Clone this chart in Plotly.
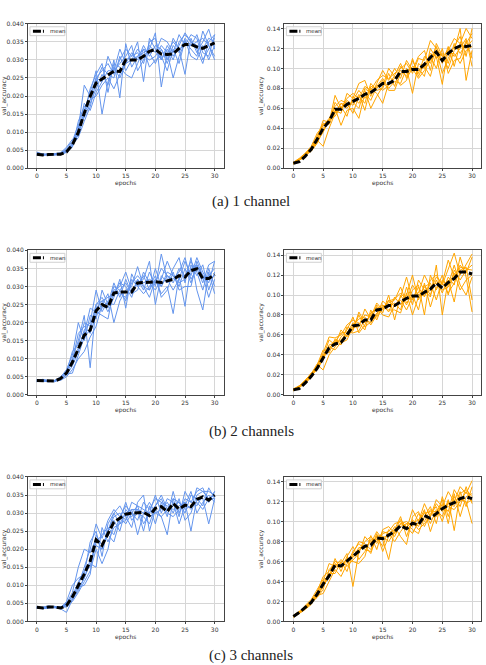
import plotly.graph_objects as go

epochs = list(range(31))

# ---------- (a) 1 channel ----------
a_blue_mean = [0.0039,0.0037,0.0038,0.0038,0.0039,0.0045,0.0065,0.0099,0.0153,0.0199,0.0236,0.0247,0.0258,0.0269,0.0268,0.0300,0.0300,0.0300,0.0310,0.0324,0.0329,0.0316,0.0315,0.0317,0.0332,0.0343,0.0343,0.0336,0.0332,0.0340,0.0347]
a_blue_runs = [
    [0.0038,0.0036,0.0040,0.0037,0.0042,0.0050,0.0068,0.0110,0.0230,0.0200,0.0250,0.0270,0.0290,0.0260,0.0300,0.0330,0.0310,0.0320,0.0290,0.0350,0.0360,0.0300,0.0330,0.0300,0.0350,0.0370,0.0350,0.0340,0.0330,0.0360,0.0350],
    [0.0043,0.0040,0.0036,0.0039,0.0038,0.0045,0.0060,0.0095,0.0160,0.0210,0.0270,0.0150,0.0240,0.0280,0.0250,0.0290,0.0320,0.0300,0.0340,0.0310,0.0340,0.0330,0.0290,0.0340,0.0320,0.0360,0.0340,0.0370,0.0320,0.0310,0.0370],
    [0.0040,0.0035,0.0039,0.0040,0.0041,0.0055,0.0075,0.0120,0.0140,0.0180,0.0220,0.0260,0.0230,0.0300,0.0195,0.0345,0.0280,0.0310,0.0320,0.0330,0.0375,0.0225,0.0320,0.0350,0.0330,0.0260,0.0360,0.0320,0.0350,0.0385,0.0330],
    [0.0036,0.0038,0.0037,0.0036,0.0040,0.0048,0.0065,0.0085,0.0130,0.0170,0.0240,0.0280,0.0260,0.0250,0.0310,0.0270,0.0300,0.0330,0.0310,0.0300,0.0310,0.0340,0.0320,0.0250,0.0310,0.0350,0.0330,0.0310,0.0380,0.0340,0.0300],
    [0.0045,0.0039,0.0040,0.0038,0.0039,0.0052,0.0070,0.0105,0.0180,0.0160,0.0210,0.0240,0.0310,0.0270,0.0290,0.0310,0.0340,0.0270,0.0300,0.0340,0.0320,0.0360,0.0350,0.0320,0.0370,0.0340,0.0370,0.0360,0.0300,0.0330,0.0360],
    [0.0039,0.0037,0.0038,0.0041,0.0043,0.0058,0.0080,0.0090,0.0150,0.0220,0.0260,0.0290,0.0210,0.0290,0.0280,0.0260,0.0250,0.0290,0.0330,0.0280,0.0300,0.0310,0.0270,0.0330,0.0290,0.0355,0.0310,0.0300,0.0340,0.0300,0.0340],
    [0.0041,0.0036,0.0039,0.0037,0.0037,0.0044,0.0058,0.0130,0.0170,0.0190,0.0200,0.0230,0.0250,0.0220,0.0260,0.0300,0.0310,0.0350,0.0240,0.0360,0.0330,0.0300,0.0340,0.0310,0.0340,0.0375,0.0350,0.0330,0.0290,0.0350,0.0370],
    [0.0042,0.0040,0.0037,0.0039,0.0041,0.0047,0.0063,0.0100,0.0150,0.0190,0.0250,0.0240,0.0270,0.0270,0.0330,0.0290,0.0300,0.0310,0.0330,0.0320,0.0290,0.0330,0.0300,0.0360,0.0330,0.0340,0.0340,0.0350,0.0360,0.0340,0.0310],
]
a_orange_mean = [0.005,0.0066,0.012,0.019,0.029,0.040,0.047,0.059,0.059,0.064,0.067,0.070,0.074,0.076,0.080,0.085,0.085,0.088,0.097,0.097,0.099,0.099,0.104,0.111,0.1165,0.108,0.115,0.120,0.1225,0.122,0.123]
a_orange_runs = [
    [0.005,0.009,0.014,0.020,0.030,0.048,0.046,0.073,0.060,0.070,0.075,0.070,0.082,0.078,0.088,0.093,0.090,0.095,0.100,0.105,0.095,0.110,0.108,0.128,0.120,0.112,0.118,0.130,0.125,0.140,0.130],
    [0.005,0.008,0.012,0.018,0.028,0.022,0.040,0.055,0.065,0.060,0.068,0.078,0.070,0.080,0.075,0.065,0.085,0.090,0.098,0.092,0.108,0.095,0.112,0.105,0.118,0.095,0.110,0.122,0.132,0.112,0.140],
    [0.006,0.009,0.015,0.022,0.035,0.042,0.050,0.060,0.043,0.058,0.060,0.050,0.075,0.068,0.082,0.090,0.080,0.087,0.085,0.100,0.075,0.105,0.100,0.115,0.112,0.084,0.120,0.112,0.120,0.130,0.102],
    [0.005,0.009,0.013,0.017,0.025,0.038,0.048,0.062,0.068,0.065,0.055,0.072,0.065,0.085,0.078,0.080,0.095,0.082,0.102,0.095,0.102,0.100,0.092,0.120,0.110,0.115,0.105,0.125,0.115,0.125,0.135],
    [0.004,0.008,0.012,0.020,0.032,0.045,0.044,0.058,0.055,0.075,0.070,0.085,0.088,0.072,0.085,0.098,0.088,0.100,0.090,0.108,0.098,0.112,0.118,0.098,0.125,0.112,0.100,0.118,0.140,0.088,0.118],
    [0.005,0.008,0.014,0.021,0.027,0.036,0.049,0.052,0.062,0.052,0.072,0.065,0.078,0.060,0.072,0.082,0.100,0.092,0.083,0.088,0.110,0.092,0.105,0.112,0.100,0.120,0.095,0.108,0.110,0.128,0.110],
    [0.005,0.009,0.013,0.019,0.030,0.040,0.045,0.066,0.058,0.068,0.063,0.074,0.058,0.082,0.080,0.088,0.078,0.078,0.095,0.098,0.100,0.090,0.098,0.108,0.122,0.105,0.122,0.102,0.125,0.120,0.128],
    [0.006,0.010,0.015,0.019,0.026,0.044,0.047,0.056,0.065,0.063,0.066,0.060,0.080,0.075,0.083,0.078,0.083,0.093,0.105,0.090,0.100,0.098,0.102,0.092,0.115,0.108,0.115,0.115,0.105,0.118,0.122],
]

# ---------- (b) 2 channels ----------
b_blue_mean = [0.0040,0.0040,0.0038,0.0038,0.0045,0.0060,0.0090,0.0128,0.0165,0.0179,0.0233,0.0250,0.0242,0.0282,0.0285,0.0285,0.0285,0.0310,0.0311,0.0313,0.0313,0.0311,0.0315,0.0320,0.0330,0.0326,0.0344,0.0349,0.0322,0.0322,0.0333]
b_blue_runs = [
    [0.0040,0.0042,0.0037,0.0039,0.0050,0.0065,0.0100,0.0150,0.0220,0.0075,0.0250,0.0270,0.0240,0.0300,0.0290,0.0260,0.0320,0.0300,0.0330,0.0290,0.0350,0.0300,0.0330,0.0310,0.0350,0.0330,0.0370,0.0340,0.0290,0.0350,0.0300],
    [0.0038,0.0040,0.0039,0.0037,0.0042,0.0055,0.0080,0.0120,0.0180,0.0200,0.0290,0.0230,0.0260,0.0280,0.0310,0.0300,0.0270,0.0320,0.0290,0.0340,0.0300,0.0390,0.0320,0.0290,0.0320,0.0370,0.0330,0.0380,0.0340,0.0310,0.0370],
    [0.0042,0.0039,0.0036,0.0040,0.0048,0.0070,0.0110,0.0200,0.0150,0.0220,0.0210,0.0290,0.0250,0.0310,0.0270,0.0320,0.0280,0.0290,0.0340,0.0310,0.0290,0.0320,0.0370,0.0330,0.0300,0.0350,0.0310,0.0360,0.0320,0.0330,0.0350],
    [0.0036,0.0041,0.0038,0.0038,0.0040,0.0050,0.0070,0.0100,0.0120,0.0160,0.0190,0.0250,0.0280,0.0200,0.0260,0.0290,0.0300,0.0355,0.0300,0.0270,0.0320,0.0280,0.0300,0.0225,0.0330,0.0245,0.0360,0.0330,0.0360,0.0290,0.0340],
    [0.0041,0.0038,0.0039,0.0036,0.0046,0.0060,0.0090,0.0130,0.0170,0.0240,0.0230,0.0220,0.0210,0.0290,0.0300,0.0340,0.0290,0.0310,0.0320,0.0370,0.0250,0.0330,0.0310,0.0350,0.0380,0.0310,0.0380,0.0290,0.0235,0.0340,0.0280],
    [0.0039,0.0043,0.0040,0.0039,0.0044,0.0062,0.0120,0.0140,0.0200,0.0190,0.0250,0.0260,0.0230,0.0270,0.0320,0.0240,0.0335,0.0300,0.0280,0.0300,0.0330,0.0270,0.0290,0.0340,0.0290,0.0300,0.0300,0.0370,0.0330,0.0270,0.0320],
    [0.0043,0.0037,0.0038,0.0040,0.0047,0.0058,0.0060,0.0110,0.0160,0.0180,0.0240,0.0260,0.0270,0.0280,0.0280,0.0270,0.0310,0.0330,0.0310,0.0320,0.0310,0.0350,0.0330,0.0320,0.0340,0.0380,0.0320,0.0350,0.0310,0.0360,0.0370],
    [0.0037,0.0040,0.0037,0.0038,0.0043,0.0067,0.0095,0.0170,0.0190,0.0170,0.0220,0.0240,0.0255,0.0250,0.0290,0.0310,0.0280,0.0320,0.0300,0.0290,0.0320,0.0300,0.0340,0.0330,0.0310,0.0320,0.0350,0.0360,0.0330,0.0320,0.0330],
]
b_orange_mean = [0.005,0.0063,0.012,0.0185,0.0267,0.0366,0.047,0.051,0.0525,0.060,0.069,0.070,0.075,0.075,0.085,0.086,0.0895,0.0895,0.093,0.0967,0.099,0.099,0.1027,0.106,0.112,0.107,0.1126,0.1165,0.123,0.123,0.121]
b_orange_runs = [
    [0.005,0.007,0.012,0.019,0.026,0.035,0.050,0.052,0.055,0.062,0.072,0.070,0.080,0.078,0.092,0.085,0.095,0.088,0.098,0.118,0.095,0.108,0.098,0.115,0.120,0.110,0.125,0.142,0.120,0.130,0.141],
    [0.005,0.009,0.014,0.021,0.030,0.025,0.040,0.048,0.058,0.065,0.078,0.062,0.070,0.082,0.086,0.090,0.083,0.098,0.090,0.100,0.120,0.095,0.110,0.100,0.115,0.102,0.118,0.110,0.138,0.118,0.083],
    [0.004,0.008,0.013,0.019,0.028,0.040,0.046,0.055,0.050,0.068,0.065,0.080,0.068,0.073,0.090,0.082,0.100,0.075,0.100,0.090,0.105,0.110,0.080,0.120,0.105,0.120,0.100,0.125,0.115,0.125,0.130],
    [0.006,0.008,0.014,0.022,0.027,0.038,0.055,0.050,0.065,0.058,0.070,0.076,0.078,0.070,0.080,0.094,0.088,0.092,0.085,0.108,0.090,0.115,0.105,0.098,0.130,0.080,0.115,0.093,0.125,0.128,0.095],
    [0.005,0.009,0.012,0.017,0.030,0.045,0.042,0.056,0.052,0.055,0.068,0.068,0.086,0.076,0.078,0.088,0.092,0.095,0.108,0.092,0.100,0.085,0.112,0.088,0.108,0.112,0.135,0.118,0.130,0.122,0.138],
    [0.005,0.008,0.013,0.020,0.025,0.036,0.048,0.045,0.053,0.060,0.064,0.083,0.072,0.080,0.088,0.080,0.078,0.090,0.095,0.085,0.098,0.102,0.120,0.108,0.112,0.105,0.108,0.122,0.105,0.115,0.120],
    [0.005,0.008,0.012,0.019,0.029,0.042,0.058,0.057,0.060,0.070,0.075,0.072,0.065,0.085,0.075,0.090,0.085,0.085,0.082,0.102,0.080,0.098,0.108,0.112,0.095,0.115,0.110,0.130,0.110,0.100,0.118],
    [0.006,0.009,0.015,0.021,0.031,0.038,0.047,0.053,0.062,0.063,0.062,0.064,0.076,0.072,0.082,0.086,0.094,0.096,0.102,0.095,0.110,0.100,0.100,0.105,0.118,0.112,0.102,0.112,0.128,0.126,0.125],
]

# ---------- (c) 3 channels ----------
c_blue_mean = [0.0039,0.0037,0.0040,0.0040,0.0037,0.0044,0.0068,0.0099,0.0131,0.0167,0.0226,0.0211,0.0245,0.0275,0.0286,0.0297,0.0300,0.0302,0.0302,0.0293,0.0313,0.0318,0.0304,0.0327,0.0311,0.0322,0.0318,0.0338,0.0345,0.0336,0.0350]
c_blue_runs = [
    [0.0040,0.0036,0.0041,0.0039,0.0035,0.0025,0.0060,0.0100,0.0150,0.0200,0.0270,0.0230,0.0280,0.0310,0.0290,0.0320,0.0300,0.0280,0.0330,0.0310,0.0340,0.0330,0.0290,0.0360,0.0300,0.0340,0.0330,0.0360,0.0370,0.0330,0.0360],
    [0.0038,0.0039,0.0042,0.0041,0.0040,0.0050,0.0080,0.0150,0.0200,0.0190,0.0230,0.0200,0.0250,0.0290,0.0300,0.0280,0.0330,0.0320,0.0270,0.0300,0.0320,0.0350,0.0310,0.0320,0.0330,0.0300,0.0350,0.0340,0.0320,0.0370,0.0340],
    [0.0042,0.0035,0.0038,0.0040,0.0038,0.0045,0.0065,0.0090,0.0120,0.0160,0.0150,0.0260,0.0220,0.0260,0.0270,0.0300,0.0310,0.0240,0.0300,0.0290,0.0300,0.0310,0.0330,0.0300,0.0340,0.0280,0.0300,0.0350,0.0360,0.0340,0.0350],
    [0.0037,0.0038,0.0039,0.0042,0.0036,0.0055,0.0100,0.0120,0.0130,0.0220,0.0250,0.0180,0.0270,0.0300,0.0320,0.0290,0.0260,0.0330,0.0350,0.0250,0.0310,0.0290,0.0240,0.0340,0.0290,0.0360,0.0330,0.0320,0.0350,0.0330,0.0360],
    [0.0039,0.0037,0.0040,0.0038,0.0039,0.0040,0.0055,0.0080,0.0110,0.0140,0.0200,0.0160,0.0200,0.0280,0.0250,0.0310,0.0290,0.0310,0.0250,0.0320,0.0270,0.0330,0.0320,0.0310,0.0320,0.0330,0.0250,0.0340,0.0340,0.0270,0.0340],
    [0.0041,0.0036,0.0037,0.0039,0.0037,0.0048,0.0070,0.0110,0.0140,0.0150,0.0220,0.0240,0.0260,0.0240,0.0290,0.0270,0.0300,0.0320,0.0310,0.0300,0.0350,0.0300,0.0340,0.0330,0.0270,0.0320,0.0360,0.0300,0.0330,0.0350,0.0330],
    [0.0036,0.0040,0.0043,0.0040,0.0041,0.0042,0.0075,0.0095,0.0100,0.0130,0.0240,0.0210,0.0240,0.0220,0.0280,0.0330,0.0280,0.0300,0.0290,0.0270,0.0320,0.0340,0.0300,0.0290,0.0310,0.0330,0.0310,0.0370,0.0360,0.0360,0.0350],
    [0.0040,0.0038,0.0039,0.0041,0.0038,0.0052,0.0060,0.0085,0.0120,0.0170,0.0210,0.0200,0.0250,0.0300,0.0270,0.0280,0.0310,0.0310,0.0300,0.0330,0.0300,0.0290,0.0310,0.0340,0.0330,0.0310,0.0320,0.0330,0.0310,0.0340,0.0340],
]
c_orange_mean = [0.005,0.009,0.014,0.019,0.0274,0.0373,0.0456,0.0565,0.0555,0.060,0.0654,0.0703,0.0753,0.0763,0.0835,0.0829,0.0862,0.090,0.096,0.0928,0.0984,0.0967,0.106,0.1033,0.108,0.113,0.1165,0.119,0.123,0.1248,0.123]
c_orange_runs = [
    [0.005,0.009,0.015,0.020,0.030,0.045,0.050,0.060,0.058,0.068,0.035,0.070,0.080,0.085,0.078,0.088,0.090,0.098,0.100,0.092,0.112,0.100,0.118,0.105,0.122,0.115,0.130,0.120,0.135,0.128,0.141],
    [0.005,0.008,0.013,0.018,0.026,0.028,0.040,0.052,0.045,0.058,0.070,0.078,0.072,0.070,0.085,0.075,0.092,0.085,0.098,0.100,0.095,0.108,0.100,0.112,0.105,0.118,0.110,0.132,0.122,0.120,0.098],
    [0.006,0.010,0.014,0.021,0.029,0.040,0.058,0.055,0.062,0.055,0.062,0.068,0.085,0.078,0.090,0.082,0.062,0.092,0.105,0.085,0.102,0.095,0.110,0.098,0.112,0.105,0.122,0.091,0.128,0.132,0.125],
    [0.005,0.009,0.014,0.019,0.025,0.035,0.045,0.063,0.050,0.065,0.075,0.062,0.070,0.082,0.080,0.090,0.088,0.080,0.090,0.098,0.092,0.088,0.105,0.115,0.098,0.125,0.105,0.125,0.115,0.135,0.118],
    [0.004,0.008,0.012,0.017,0.028,0.038,0.048,0.048,0.060,0.050,0.068,0.080,0.078,0.072,0.088,0.070,0.085,0.095,0.085,0.077,0.105,0.110,0.095,0.108,0.115,0.100,0.120,0.115,0.130,0.115,0.135],
    [0.005,0.009,0.016,0.022,0.032,0.042,0.044,0.057,0.055,0.062,0.060,0.058,0.065,0.086,0.072,0.092,0.095,0.088,0.098,0.095,0.088,0.100,0.112,0.090,0.108,0.122,0.098,0.128,0.105,0.125,0.128],
    [0.005,0.008,0.013,0.019,0.024,0.032,0.052,0.058,0.054,0.060,0.066,0.072,0.076,0.068,0.086,0.085,0.080,0.090,0.102,0.094,0.100,0.092,0.098,0.105,0.118,0.110,0.118,0.118,0.125,0.118,0.122],
    [0.006,0.010,0.014,0.020,0.027,0.036,0.046,0.054,0.056,0.063,0.064,0.074,0.074,0.080,0.082,0.084,0.086,0.092,0.095,0.098,0.098,0.102,0.108,0.110,0.110,0.114,0.115,0.112,0.120,0.130,0.120],
]

captions = ["(a) 1 channel", "(b) 2 channels", "(c) 3 channels"]
x_ticks = [0, 5, 10, 15, 20, 25, 30]
legend_label = "mean"

BLUE = "#6495ED"
ORANGE = "#FFA500"

W, H = 486, 665
cols_px = [(27, 223), (284, 481)]
rows_px = [(20, 166), (249, 395), (478, 624)]
cap_y_px = [200, 432, 658]

panels = [
    (0, 0, a_blue_runs, a_blue_mean, BLUE, "blue"),
    (0, 1, a_orange_runs, a_orange_mean, ORANGE, "orange"),
    (1, 0, b_blue_runs, b_blue_mean, BLUE, "blue"),
    (1, 1, b_orange_runs, b_orange_mean, ORANGE, "orange"),
    (2, 0, c_blue_runs, c_blue_mean, BLUE, "blue"),
    (2, 1, c_orange_runs, c_orange_mean, ORANGE, "orange"),
]

fig = go.Figure()
FONT = "DejaVu Sans"
TICKC = "#333333"

for i, (r, c, runs, mean, color, kind) in enumerate(panels):
    k = i + 1
    xa = "x" if k == 1 else f"x{k}"
    ya = "y" if k == 1 else f"y{k}"
    for run in runs:
        fig.add_trace(go.Scatter(x=epochs, y=run, mode="lines",
                                 line=dict(color=color, width=1),
                                 xaxis=xa, yaxis=ya, showlegend=False,
                                 hoverinfo="skip"))
    fig.add_trace(go.Scatter(x=epochs, y=mean, mode="lines", name=legend_label,
                             line=dict(color="black", width=3, dash="7px,3px"),
                             xaxis=xa, yaxis=ya, showlegend=False))

    l, rr = cols_px[c]
    t, b = rows_px[r]
    pw, ph = rr - l, b - t
    xdom = [l / W, rr / W]
    ydom = [1 - b / H, 1 - t / H]
    axkey_x = "xaxis" if k == 1 else f"xaxis{k}"
    axkey_y = "yaxis" if k == 1 else f"yaxis{k}"
    common = dict(showline=True, linecolor="#444444", linewidth=1, mirror=True,
                  showgrid=True, gridcolor="#d6d6d6", gridwidth=1,
                  ticks="outside", ticklen=2, tickwidth=1, tickcolor="#444444",
                  tickfont=dict(family=FONT, size=6, color=TICKC),
                  zeroline=False)
    fig.layout[axkey_x] = dict(domain=xdom, anchor=ya, range=[-1.5, 31.5],
                               tickvals=x_ticks,
                               title=dict(text="epochs", standoff=0,
                                          font=dict(family=FONT, size=6, color=TICKC)),
                               **common)
    if kind == "blue":
        yopts = dict(range=[0, 0.040], dtick=0.005, tick0=0, tickformat=".3f")
    else:
        yopts = dict(range=[0, 0.1447], dtick=0.02, tick0=0, tickformat=".2f")
    fig.layout[axkey_y] = dict(domain=ydom, anchor=xa,
                               title=dict(text="val_accuracy", standoff=2,
                                          font=dict(family=FONT, size=6, color=TICKC)),
                               **yopts, **common)

    # matplotlib-style legend box inside the top-left corner of each axes
    xr, yr = f"{xa} domain", f"{ya} domain"
    fig.add_shape(type="rect", xref=xr, yref=yr,
                  x0=2 / pw, x1=37 / pw, y0=1 - 12 / ph, y1=1 - 3 / ph,
                  line=dict(color="#d0d0d0", width=1),
                  fillcolor="rgba(255,255,255,0.85)", layer="above")
    fig.add_shape(type="line", xref=xr, yref=yr,
                  x0=5 / pw, x1=16 / pw, y0=1 - 7.5 / ph, y1=1 - 7.5 / ph,
                  line=dict(color="black", width=3, dash="8px,2px"), layer="above")
    fig.add_annotation(text=legend_label, xref=xr, yref=yr,
                       x=20 / pw, y=1 - 7.5 / ph, xanchor="left", yanchor="middle",
                       showarrow=False,
                       font=dict(family=FONT, size=5.5, color=TICKC))

for j, cap in enumerate(captions):
    fig.add_annotation(text=cap, xref="paper", yref="paper",
                       x=251 / W, y=1 - cap_y_px[j] / H,
                       xanchor="center", yanchor="middle", showarrow=False,
                       font=dict(family="Liberation Serif", size=15, color="#222222"))

fig.update_layout(width=W, height=H, margin=dict(l=0, r=0, t=0, b=0),
                  paper_bgcolor="white", plot_bgcolor="white",
                  autosize=False, showlegend=False)

fig.write_html("out.html")
